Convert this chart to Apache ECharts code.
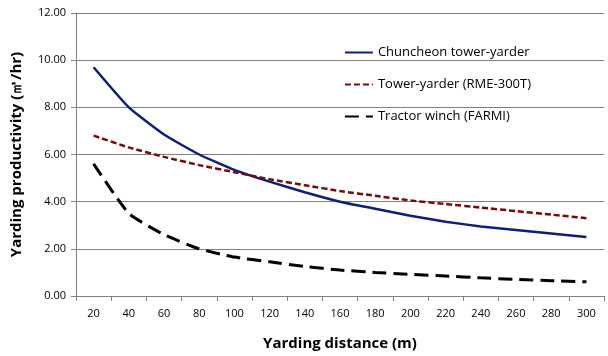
<!DOCTYPE html>
<html>
<head>
<meta charset="utf-8">
<script src="https://cdn.jsdelivr.net/npm/echarts@6/dist/echarts.min.js"></script>
<style>
  html, body { margin: 0; padding: 0; background: #fff; }
  #chart { width: 608px; height: 356px; }
</style>
</head>
<body>
<div id="chart"></div>
<script>
// yarding distance (m)
const distances = ['20', '40', '60', '80', '100', '120', '140', '160', '180', '200', '220', '240', '260', '280', '300'];

// productivity, values
const chuncheon = [9.7, 8.0, 6.85, 6.0, 5.35, 4.85, 4.4, 4.0, 3.7, 3.4, 3.15, 2.95, 2.8, 2.65, 2.5];
const rme300t = [6.8, 6.3, 5.9, 5.55, 5.25, 4.95, 4.7, 4.45, 4.25, 4.05, 3.9, 3.75, 3.6, 3.45, 3.3];
const farmi = [5.6, 3.5, 2.6, 2.0, 1.65, 1.45, 1.25, 1.1, 1.0, 0.92, 0.85, 0.77, 0.7, 0.65, 0.6];

const seriesNames = ['Chuncheon tower-yarder', 'Tower-yarder (RME-300T)', 'Tractor winch (FARMI)'];

const chart = echarts.init(document.getElementById('chart'));

const font = 'Open Sans, Noto Sans, sans-serif';

const option = {
  animation: false,
  backgroundColor: '#fff',
  grid: { left: 76, right: 4, top: 13, bottom: 59 },
  legend: {
    orient: 'vertical',
    right: 72,
    top: 41,
    itemGap: 19,
    itemWidth: 28,
    itemHeight: 14,
    data: seriesNames,
    itemStyle: { opacity: 0 },
    textStyle: { fontFamily: font, fontSize: 13, color: '#000' }
  },
  xAxis: {
    type: 'category',
    data: distances,
    boundaryGap: true,
    name: 'Yarding distance (m)',
    nameLocation: 'middle',
    nameGap: 40,
    nameTextStyle: { fontFamily: font, fontSize: 15, fontWeight: 'bold', color: '#000' },
    axisLine: { lineStyle: { color: '#808080', width: 1 } },
    axisTick: { show: true, length: 5, lineStyle: { color: '#808080' } },
    axisLabel: { fontFamily: font, fontSize: 11, color: '#000', margin: 12 }
  },
  yAxis: {
    type: 'value',
    min: 0,
    max: 12,
    interval: 2,
    name: 'Yarding productivity (㎥/hr)',
    nameLocation: 'middle',
    nameGap: 52,
    nameTextStyle: { fontFamily: font, fontSize: 15, fontWeight: 'bold', color: '#000' },
    axisLine: { show: true, lineStyle: { color: '#808080', width: 1 } },
    axisTick: { show: true, length: 5, lineStyle: { color: '#808080' } },
    axisLabel: {
      fontFamily: font, fontSize: 11, color: '#000', margin: 10,
      formatter: (v) => v.toFixed(2)
    },
    splitLine: { show: true, lineStyle: { color: '#808080', width: 1 } }
  },
  series: [
    {
      name: seriesNames[0],
      type: 'line',
      data: chuncheon,
      symbol: 'none',
      smooth: 0.15,
      lineStyle: { color: '#0d1f7a', width: 2.5, type: 'solid' },
      itemStyle: { color: '#0d1f7a' }
    },
    {
      name: seriesNames[1],
      type: 'line',
      data: rme300t,
      symbol: 'none',
      smooth: 0.15,
      lineStyle: { color: '#7a0a0a', width: 2.5, type: [6, 3] },
      itemStyle: { color: '#7a0a0a' }
    },
    {
      name: seriesNames[2],
      type: 'line',
      data: farmi,
      symbol: 'none',
      smooth: 0.15,
      lineStyle: { color: '#000', width: 3, type: [14, 7] },
      itemStyle: { color: '#000' }
    }
  ]
};

chart.setOption(option);
window.addEventListener('resize', () => chart.resize());
</script>
</body>
</html>
